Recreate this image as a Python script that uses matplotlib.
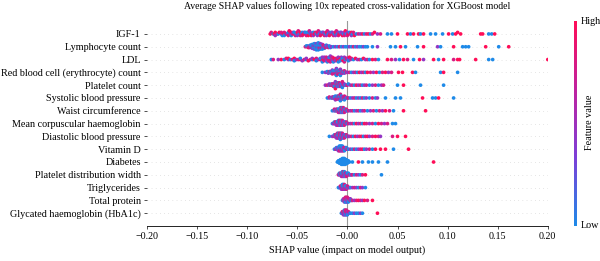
import numpy as np
import matplotlib
matplotlib.use("Agg")
import matplotlib.pyplot as plt
from matplotlib.colors import LinearSegmentedColormap
from matplotlib.colorbar import ColorbarBase

plt.rcParams['font.family'] = ['Liberation Serif', 'DejaVu Serif']

features = ["IGF-1", "Lymphocyte count", "LDL", "Red blood cell (erythrocyte) count",
            "Platelet count", "Systolic blood pressure", "Waist circumference",
            "Mean corpuscular haemoglobin", "Diastolic blood pressure", "Vitamin D",
            "Diabetes", "Platelet distribution width", "Triglycerides", "Total protein",
            "Glycated haemoglobin (HbA1c)"]

# SHAP values in thousandths.
# each letter after ':' is one point, its feature value: b low, p mid, m mid-high, r high
igf1 = ("-77:r -76:m -74:b -73:r -72:rp -70:m -69:b -68:r -66:pm -65:b -64:r -63:mb -61:r "
        "-60:p -59:bm -58:r -57:p -56:rb -55:m -54:p -53:rb -52:m -51:b -50:rp -49:m -48:b "
        "-47:rm -46:p -45:bm -44:r -43:p -42:rb -41:m -40:pb -39:r -38:m -37:bp -36:r -35:m "
        "-34:bp -33:r -32:m -31:b -30:rp -29:m -28:b -27:pr -26:m -25:b -24:rp -23:m -22:b "
        "-21:rp -20:m -19:b -18:pr -17:m -16:b -15:rp -14:m -13:b -12:rp -11:m -10:b -9:pm "
        "-8:r -7:b -6:mp -5:r -4:b -3:pm -2:r -1:b 0:pm 1:r 2:b 3:m 4:rp 5:b 6:m 7:r 9:b "
        "11:m 13:p 15:r 17:b 19:m 21:r 23:b 25:m 27:r 30:p 33:m 40:b 44:b 50:r 60:r 63:b "
        "66:r 71:r 73:b 76:r 83:b 88:b 95:b 101:r 105:b 108:r 110:r 113:r 133:r 135:r "
        "141:b 144:b 147:r")
lymphocyte = ("-42:m -41:b -40:mb -39:r -38:bpm -37:b -36:bmpb -35:pb -34:bbmpb -33:bpb "
              "-32:bmbpbb -31:bpb -30:bbmbpbb -29:pbb -28:bbpbmb -27:bp -26:bbpbm -25:pb "
              "-24:bbpm -23:b -22:bpm -21:b -20:bp -19:m -18:pb -17:b -16:p -14:b -12:p "
              "-10:b -8:m -6:b -4:p -2:b 0:b 2:p 4:b 6:m 8:b 10:p 12:b 14:b 16:p 18:b 20:b "
              "25:b 30:p 43:b 48:b 53:r 58:b 70:b 76:r 90:p 93:b 106:r 115:b 118:b 121:b "
              "138:r 151:b 161:r")
ldl = ("-76:b -74:m -69:p -66:r -63:b -61:m -59:pr -57:b -55:m -53:rb -51:p -49:m -47:rb "
       "-45:p -43:m -41:bp -39:r -37:m -35:bp -33:r -31:mb -29:p -27:rb -25:mpb -24:r "
       "-23:bmp -22:r -21:bpm -20:b -19:rpm -18:b -17:mp -16:r -15:bpm -14:b -13:mr -12:p "
       "-11:bm -10:r -9:pb -8:m -7:rb -6:p -5:mb -4:r -3:pm -2:b -1:r 0:mp 1:b 2:r 3:p 4:m "
       "6:b 8:r 10:p 12:m 14:b 16:r 18:p 20:m 22:b 25:r 28:m 31:b 40:r 44:m 48:p 52:b 56:r "
       "60:m 66:b 72:r 76:p 86:r 91:b 96:r 106:m 110:r 112:r 128:r 141:b 145:b 200:r")
rbc = ("-25:b -22:p -20:mb -19:p -18:bm -17:pb -16:mpb -15:bmp -14:pbmb -13:bpmb -12:mbpbm "
       "-11:pbmbp -10:bmpbmb -9:pmbpm -8:bmpbm -7:mbpb -6:pbm -5:bmp -4:mb -3:pm -2:b -1:m "
       "0:p 2:m 4:b 6:p 8:m 10:b 12:r 14:p 16:m 18:b 20:r 23:m 26:p 29:r 32:b 35:m 38:r "
       "41:p 44:m 51:r 55:r 65:r 68:b 93:b 96:r 110:b")
platelet = ("-22:p -20:m -18:bp -17:m -16:pb -15:mr -14:bpm -13:pmb -12:mbpr -11:bpmb "
            "-10:pmbm -9:bmpb -8:mpbm -7:bpm -6:mbp -5:pbm -4:bm -3:mp -2:b -1:p 0:m 1:b "
            "3:p 5:m 7:b 9:r 11:p 13:m 15:b 17:p 19:m 22:b 25:p 28:m 31:b 34:p 36:m 50:b "
            "56:r 73:b 96:b")
systolic = ("-20:b -18:pm -16:b -15:mp -14:bm -13:pb -12:mbp -11:bpm -10:pbmb -9:mbpm "
            "-8:bpmb -7:pmbm -6:bmpb -5:mpb -4:bpm -3:mb -2:pm -1:b 0:p 1:m 3:b 5:p 7:m "
            "9:b 11:p 13:b 15:m 17:b 19:p 22:b 25:m 28:b 30:p 38:b 48:b 53:b 75:r 85:b "
            "88:b 91:r 106:b")
waist = ("-15:b -13:pm -12:b -11:mp -10:bm -9:pbm -8:mbp -7:bpmb -6:pmbm -5:bmpb -4:mpbm "
         "-3:bpm -2:mb -1:pm 0:b 1:m 3:p 5:m 7:b 9:p 11:m 13:b 15:p 17:m 20:b 23:p 26:m "
         "29:b 32:m 35:p 38:r 42:m 46:b 56:r 78:r")
mch = ("-15:b -14:p -13:mb -12:pm -11:bmp -10:mbp -9:pbmb -8:bmpm -7:mpbm -6:pbmb -5:bmpm "
       "-4:mpb -3:bpm -2:mb -1:pm 0:b 1:m 3:p 5:m 7:b 9:r 11:p 13:m 15:b 17:r 19:m 22:p "
       "25:m 28:b 31:r 34:m 37:p 40:m 45:b 48:b")
diastolic = ("-18:b -15:p -13:mb -12:pm -11:bmp -10:mbpm -9:pbmb -8:bmpm -7:mpbmb -6:pbmb "
             "-5:bmpm -4:mpb -3:bpm -2:mb -1:pm 0:b 1:m 2:p 4:m 6:b 8:r 10:p 12:m 14:r "
             "16:b 18:m 20:r 22:p 25:m 28:r 31:m 33:p 45:m 50:r 58:r")
vitamin_d = ("-13:b -12:p -11:mb -10:bp -9:mbp -8:bpmb -7:pbmb -6:bmpb -5:mbpb -4:bpm "
             "-3:pmb -2:bm -1:pb 0:m 1:b 3:p 5:b 7:m 9:b 11:p 13:m 15:r 17:b 19:p 22:m "
             "25:b 28:r 33:r 38:r 46:b 61:r")
diabetes = ("-10:b -9:bb -8:bbb -7:bbbb -6:bbbbb -5:bbbbbb -4:bbbbbb -3:bbbbbb -2:bbbbb "
            "-1:bbbb 0:bbb 1:bb 2:b 5:b 11:r 15:b 21:b 25:b 31:b 40:b 86:r")
pdw = ("-9:m -8:pb -7:bm -6:mbp -5:pbmb -4:bmpm -3:mbpb -2:pmb -1:bpm 0:mb 1:pb 2:m 3:b "
       "4:p 5:m 7:b 9:m 11:p 13:b 15:m 18:r 34:b")
triglycerides = ("-9:b -8:b -7:pm -6:bmp -5:mbpb -4:pbmb -3:bmpm -2:mbp -1:pbm 0:bm 1:p "
                 "2:m 3:b 5:p 7:m 9:p 11:b 13:m 15:p 18:b")
total_protein = ("-5:b -4:mp -3:bmp -2:mpbm -1:pmbm 0:mbpm 1:pmb 2:bm 3:mp 4:b 5:m 7:p "
                 "9:m 11:r 13:m 15:p 17:r 20:m 25:r")
hba1c = ("-6:b -5:pm -4:bmp -3:mbpb -2:pmbm -1:bmpm 0:mpb 1:bm 2:p 3:b 5:b 7:p 9:b 11:b "
         "13:p 15:b 30:r")

rows = [igf1, lymphocyte, ldl, rbc, platelet, systolic, waist, mch, diastolic,
        vitamin_d, diabetes, pdw, triglycerides, total_protein, hba1c]
levels = {'b': 0.0, 'p': 0.45, 'm': 0.8, 'r': 1.0}

cmap = LinearSegmentedColormap.from_list(
    "shap_red_blue", ["#1e8ae8", "#7c3fd8", "#c0229f", "#ff0d57"])


def parse(row):
    shaps, vals = [], []
    for tok in row.split():
        v, cols = tok.split(':')
        for c in cols:
            shaps.append(int(v) / 1000)
            vals.append(levels[c])
    return np.array(shaps), np.array(vals)


def swarm(shaps, row_height=0.4, nbins=100):
    # same stacking as shap's beeswarm
    quant = np.round(nbins * (shaps - shaps.min()) / (shaps.max() - shaps.min() + 1e-8))
    inds = np.argsort(quant, kind='stable')
    ys = np.zeros(len(shaps))
    layer, last = 0, -1
    for i in inds:
        if quant[i] != last:
            layer = 0
        ys[i] = np.ceil(layer / 2) * ((layer % 2) * 2 - 1)
        layer += 1
        last = quant[i]
    ys *= 0.9 * (row_height / np.max(ys + 1))
    return ys


fig = plt.figure(figsize=(6, 2.61), dpi=100)
ax = fig.add_axes([0.245, 0.134, 0.668, 0.785])

n = len(rows)
for k, row in enumerate(rows):
    pos = n - 1 - k
    shaps, vals = parse(row)
    ax.axhline(pos, color="#cccccc", lw=0.5, dashes=(1, 5), zorder=-1)
    ax.scatter(shaps, pos + swarm(shaps), c=vals, cmap=cmap, vmin=0, vmax=1,
               s=7, linewidth=0, zorder=3)

ax.axvline(0, color="#999999", lw=0.8, zorder=-1)
ax.set_xlim(-0.2, 0.2)
ax.set_ylim(-1, n)
ax.set_yticks(range(n))
ax.set_yticklabels(features[::-1], fontsize=7.3)
ax.set_xticks(np.arange(-0.2, 0.21, 0.05))
ax.set_xticklabels([f"{t:.2f}".replace("-", "\u2212") for t in np.arange(-0.2, 0.21, 0.05)],
                   fontsize=7.2)
ax.tick_params(axis='y', length=2.5, width=0.6, color="#333333", pad=2)
ax.tick_params(axis='x', length=2.5, width=0.6, color="#333333", pad=2)
for side in ['top', 'right', 'left']:
    ax.spines[side].set_visible(False)
ax.spines['bottom'].set_linewidth(0.6)
ax.set_xlabel("SHAP value (impact on model output)", fontsize=7.3, labelpad=3)

fig.text(0.579, 0.975, "Average SHAP values following 10x repeated cross-validation for XGBoost model",
         ha='center', va='center', fontsize=7)

cax = fig.add_axes([574 / 600, 0.134, 3 / 600, 0.785])
cb = ColorbarBase(cax, cmap=cmap, orientation='vertical', ticks=[])
cb.outline.set_visible(False)
fig.text(581 / 600, 1 - 22 / 261, "High", ha='left', va='center', fontsize=7.3)
fig.text(581 / 600, 1 - 226 / 261, "Low", ha='left', va='center', fontsize=7.3)
fig.text(590 / 600, 1 - 122 / 261, "Feature value", ha='center', va='center',
         rotation=90, fontsize=7.3)

fig.savefig("out.png", dpi=100)
